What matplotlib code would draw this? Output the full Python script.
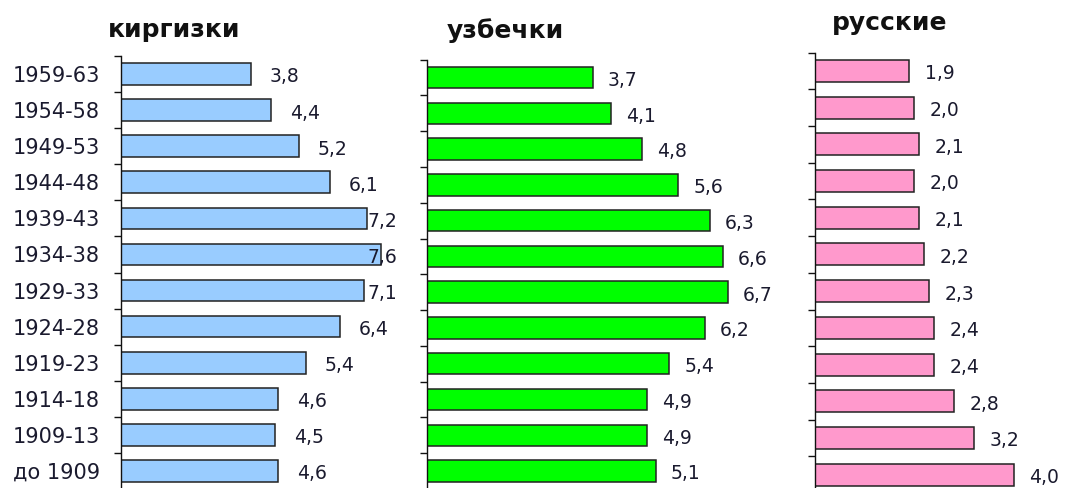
import matplotlib.pyplot as plt
import numpy as np

# periods (top to bottom) and values for each group
periods = ["1959-63", "1954-58", "1949-53", "1944-48", "1939-43", "1934-38",
           "1929-33", "1924-28", "1919-23", "1914-18", "1909-13", "до 1909"]
kirgizki = [3.8, 4.4, 5.2, 6.1, 7.2, 7.6, 7.1, 6.4, 5.4, 4.6, 4.5, 4.6]
uzbechki = [3.7, 4.1, 4.8, 5.6, 6.3, 6.6, 6.7, 6.2, 5.4, 4.9, 4.9, 5.1]
russkie = [1.9, 2.0, 2.1, 2.0, 2.1, 2.2, 2.3, 2.4, 2.4, 2.8, 3.2, 4.0]

W, H = 1065, 488
fig = plt.figure(figsize=(W / 100, H / 100), dpi=100)

def px_axes(x0, x1, ytop, ybot):
    return fig.add_axes([x0 / W, 1 - ybot / H, (x1 - x0) / W, (ybot - ytop) / H])

# (title, values, color, left px, right px, top px, bottom px, xmax, label offset, label clamp, title y)
panels = [
    ("киргизки", kirgizki, "#99CCFF", 121, 400, 56, 489, 8.16, 0.55, 7.22, 30),
    ("узбечки", uzbechki, "#00FF00", 427, 790, 59.6, 489, 8.09, 0.33, 99, 31),
    ("русские", russkie, "#FF99CC", 815, 1065, 52.6, 493, 5.03, 0.31, 99, 23),
]

n = len(periods)
y = np.arange(n)
txt_color = "#1a1a2e"

for i, (title, vals, col, x0, x1, yt, yb, xmax, off, clamp, ty) in enumerate(panels):
    ax = px_axes(x0, x1, yt, yb)
    ax.barh(y, vals, height=0.6, color=col, edgecolor="#222222", linewidth=1.1)
    ax.set_xlim(0, xmax)
    ax.set_ylim(n - 0.5, -0.5)
    for s in ["top", "right", "bottom"]:
        ax.spines[s].set_visible(False)
    ax.spines["left"].set_color("#111111")
    ax.spines["left"].set_linewidth(1.0)
    ax.set_xticks([])
    ax.set_yticks(y)
    ax.set_yticks(np.arange(-0.5, n, 1), minor=True)
    ax.tick_params(axis="y", which="major", length=0, pad=15)
    ax.tick_params(axis="y", which="minor", length=5, width=1.0, color="#111111")
    if i == 0:
        ax.set_yticklabels(periods, fontsize=15, color=txt_color)
    else:
        ax.set_yticklabels([])
    ax.patch.set_alpha(0)
    for yy, v in zip(y, vals):
        lx = min(v + off, clamp)
        ax.text(lx, yy + 0.08, f"{v:.1f}".replace(".", ","), va="center",
                ha="left", fontsize=13.5, color=txt_color, clip_on=False)
    # title centred over the bars
    cx = {0: 174, 1: 505, 2: 890}[i]
    fig.text(cx / W, 1 - ty / H, title, ha="center", va="center",
             fontsize=18, fontweight="bold", color="#111111")

fig.savefig("out.png", dpi=100)
